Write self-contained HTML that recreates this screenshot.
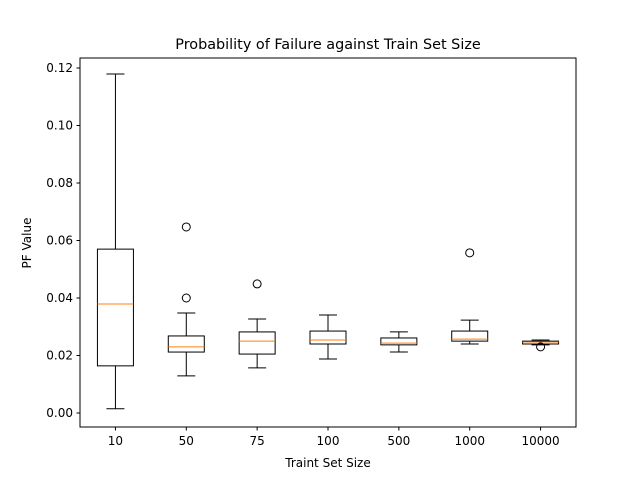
<!DOCTYPE html>
<html><head><meta charset="utf-8"><style>
body{margin:0;background:#fff;font-family:"Liberation Sans","DejaVu Sans",sans-serif;}
</style></head><body>
<svg id="chart" width="640" height="480" xmlns="http://www.w3.org/2000/svg" font-family="DejaVu Sans, Liberation Sans, sans-serif">
<rect width="640" height="480" fill="#fff"/>
<text x="328" y="49" font-size="14.4" text-anchor="middle">Probability of Failure against Train Set Size</text>
<text x="328" y="467" font-size="12" text-anchor="middle">Traint Set Size</text>
<text x="31" y="243" font-size="12" text-anchor="middle" transform="rotate(-90 31 243)">PF Value</text>
<g id="marks"></g>
<rect x="80" y="58" width="496" height="369" fill="none" stroke="#000" stroke-width="1"/>
</svg>
<script>
const categories=["10","50","75","100","500","1000","10000"];
const whiskerLow=[0.0015,0.0129,0.0157,0.0188,0.0212,0.024,0.0237];
const q1=[0.0164,0.0212,0.0205,0.024,0.0237,0.025,0.024];
const median=[0.0379,0.023,0.025,0.0254,0.0243,0.0257,0.0247];
const q3=[0.057,0.0268,0.0282,0.0285,0.0261,0.0285,0.025];
const whiskerHigh=[0.1179,0.0348,0.0327,0.0341,0.0282,0.0323,0.0254];
const fliers=[[],[0.0647,0.040],[0.0449],[],[],[0.0557],[0.023]];
const yTicks=[0,0.02,0.04,0.06,0.08,0.10,0.12];
const yTickLabels=["0.00","0.02","0.04","0.06","0.08","0.10","0.12"];

const L=80,R=576,T=58,B=427;
const y=v=>413-v*2875;
const step=(R-L)/categories.length;
const x=i=>L+step*(i+0.5);
const NS="http://www.w3.org/2000/svg";
const g=document.getElementById('marks');
function mk(t,a){const e=document.createElementNS(NS,t);for(const k in a)e.setAttribute(k,a[k]);g.appendChild(e);return e;}
yTicks.forEach((v,i)=>{
 const t=mk('line',{x1:L-3.5,x2:L,y1:y(v),y2:y(v),stroke:'#000'});
 
 
 const l=mk('text',{x:L-7,y:y(v)+4,'font-size':12,'text-anchor':'end'});
 l.textContent=yTickLabels[i];
 
 
});
categories.forEach((c,i)=>{
 const cx=x(i),bw=18,cw=9;
 mk('line',{x1:cx,x2:cx,y1:B,y2:B+3.5,stroke:'#000'});
 const l=mk('text',{x:cx,y:B+18,'font-size':12,'text-anchor':'middle'});
 l.textContent=c;
 
 
 const attrs={stroke:'#000',fill:'none'};
 const w1=mk('line',{x1:cx,x2:cx,y1:y(q1[i]),y2:y(whiskerLow[i]),...attrs});
 
 
 const w2=mk('line',{x1:cx,x2:cx,y1:y(q3[i]),y2:y(whiskerHigh[i]),...attrs});
 
 
 mk('line',{x1:cx-cw,x2:cx+cw,y1:y(whiskerLow[i]),y2:y(whiskerLow[i]),...attrs});
 mk('line',{x1:cx-cw,x2:cx+cw,y1:y(whiskerHigh[i]),y2:y(whiskerHigh[i]),...attrs});
 const b=mk('rect',{x:cx-bw,width:bw*2,y:y(q3[i]),height:Math.max(0.5,y(q1[i])-y(q3[i])),...attrs});
 
 
 const m=mk('line',{x1:cx-bw,x2:cx+bw,y1:y(median[i]),y2:y(median[i]),stroke:'#ff7f0e'});
 
 
 fliers[i].forEach(v=>{
  const f=mk('circle',{cx:cx,cy:y(v),r:4,fill:'none',stroke:'#000'});
  
  
 });
});
</script>
</body></html>
